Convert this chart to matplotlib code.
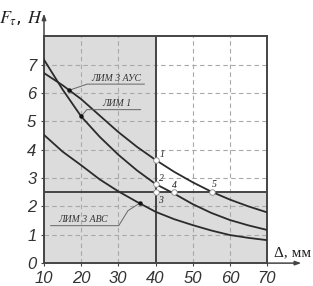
import matplotlib
matplotlib.use("Agg")
import matplotlib.pyplot as plt
from matplotlib.patches import Rectangle

plt.rcParams["mathtext.fontset"] = "stix"

# curves, F_tau (N) vs delta (mm)
delta = [10, 15, 20, 25, 30, 35, 40, 45, 50, 55, 60, 65, 70]
f_ays = [6.70, 6.27, 5.78, 5.20, 4.62, 4.10, 3.64, 3.22, 2.85, 2.52, 2.24, 2.00, 1.79]
f_lim1 = [7.17, 6.12, 5.17, 4.45, 3.82, 3.27, 2.79, 2.45, 2.08, 1.77, 1.52, 1.33, 1.17]
f_avs = [4.52, 3.93, 3.45, 2.95, 2.53, 2.16, 1.81, 1.55, 1.34, 1.15, 0.99, 0.89, 0.81]

# limits: minimal gap and required force
gap_min = 40
force_min = 2.5

# labelled points on the curves
pt_names = ["1", "2", "3", "4", "5"]
pt_x = [40, 40, 40, 44.9, 55.3]
pt_y = [3.64, 2.79, 2.5, 2.5, 2.5]

xticks = [10, 20, 30, 40, 50, 60, 70]
yticks = [0, 1, 2, 3, 4, 5, 6, 7]

fig = plt.figure(figsize=(3.13, 2.86), dpi=100)
ax = fig.add_axes([0.1406, 0.080, 0.7125, 0.7935])
ax.set_xlim(10, 70)
ax.set_ylim(0, 8)

shade = "#dcdcdc"
ax.add_patch(Rectangle((10, 0), gap_min - 10, 8, color=shade, lw=0, zorder=0))
ax.add_patch(Rectangle((gap_min, 0), 70 - gap_min, force_min, color=shade, lw=0, zorder=0))

for gx in [20, 30, 50, 60]:
    ax.axvline(gx, color="#a8a8a8", lw=0.8, ls=(0, (4, 3)), zorder=1)
for gy in yticks[1:]:
    ax.axhline(gy, color="#a8a8a8", lw=0.8, ls=(0, (4, 3)), zorder=1)

ax.axvline(gap_min, color="#444444", lw=1.4, zorder=2)
ax.axhline(force_min, color="#444444", lw=1.4, zorder=2)

for fy in (f_ays, f_lim1, f_avs):
    ax.plot(delta, fy, color="#2b2b2b", lw=1.3, zorder=3)

ax.plot(pt_x, pt_y, "o", ms=4, mfc="white", mec="#888888", mew=0.6, zorder=4)
lab_off = {"1": (1.7, 0.18), "2": (1.7, 0.2), "3": (1.4, -0.3), "4": (0.2, 0.22), "5": (0.5, 0.26)}
for n, x, y in zip(pt_names, pt_x, pt_y):
    dx, dy = lab_off[n]
    ax.text(x + dx, y + dy, n, fontsize=7, family="Liberation Serif", style="italic",
            ha="center", va="center", color="#222222", zorder=5)

# curve captions with leader lines
lbl = dict(fontsize=7, family="Liberation Serif", style="italic", color="#333333",
           ha="center", va="center", zorder=5)
lead = dict(color="#666666", lw=0.7, zorder=4)

ax.plot([16.7], [6.09], "o", ms=2.2, color="#111111", zorder=5)
ax.plot([16.7, 21.6, 37.0], [6.09, 6.31, 6.31], **lead)
ax.text(29.4, 6.50, "ЛИМ 3 АУС", **lbl)

ax.plot([20.0], [5.17], "o", ms=2.2, color="#111111", zorder=5)
ax.plot([20.0, 21.5, 36.0], [5.17, 5.41, 5.41], **lead)
ax.text(29.6, 5.62, "ЛИМ 1", **lbl)

ax.plot([35.7], [2.11], "o", ms=2.2, color="#111111", zorder=5)
ax.plot([11.8, 30.1, 32.6, 35.7], [1.32, 1.32, 1.85, 2.11], **lead)
ax.text(20.5, 1.53, "ЛИМ 3 АВС", **lbl)

for s in ax.spines.values():
    s.set_color("#444444")
    s.set_linewidth(1.4)

ax.set_xticks(xticks)
ax.set_yticks(yticks)
ax.tick_params(length=2.5, width=0.8, color="#444444", pad=3)
for t in ax.get_xticklabels() + ax.get_yticklabels():
    t.set_fontfamily("Liberation Sans")
    t.set_fontstyle("italic")
    t.set_fontsize(12)
    t.set_color("#333333")

# axis arrows beyond the box
ax.annotate("", xy=(10, 8.9), xytext=(10, 7.9), annotation_clip=False,
            arrowprops=dict(arrowstyle="-|>,head_length=0.35,head_width=0.12",
                            color="#444444", lw=1.1))
ax.annotate("", xy=(80, 0), xytext=(69.5, 0), annotation_clip=False,
            arrowprops=dict(arrowstyle="-|>,head_length=0.35,head_width=0.12",
                            color="#444444", lw=1.1))

fig.text(0.068, 0.935, r"$F_{\tau}$, $H$", fontsize=13, ha="center", va="center", color="#222222")
fig.text(0.935, 0.118, "Δ, мм", fontsize=11, family="Liberation Serif", ha="center",
         va="center", color="#222222")

fig.savefig("out.png", dpi=100)
